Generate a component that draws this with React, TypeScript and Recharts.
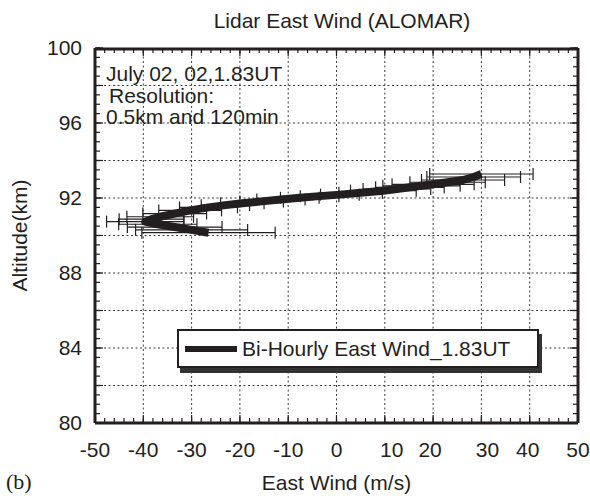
import React from 'react';
import { ComposedChart, Scatter, XAxis, YAxis, ErrorBar, Legend, ReferenceLine } from 'recharts';

const FONT = '"Liberation Sans", Arial, Helvetica, sans-serif';
const INK = '#231f20';

// Altitude (km) of each bi-hourly lidar sample, bottom to top
const altitudes = [
  90.15, 90.3, 90.45, 90.6, 90.74, 90.87, 91.0, 91.17, 91.34, 91.5, 91.62, 91.72, 91.82, 91.92,
  92.01, 92.1, 92.18, 92.28, 92.39, 92.48, 92.57, 92.65, 92.73, 92.84, 92.96, 93.12, 93.28,
];
// East wind (m/s)
const eastWind = [
  -26.5, -30.0, -33.5, -37.0, -39.6, -38.3, -36.5, -33.5, -30.3, -26.5, -23.0, -19.5, -15.5, -11.5,
  -7.6, -3.5, 0.7, 5.0, 9.7, 12.5, 15.2, 17.6, 20.0, 23.0, 26.2, 28.4, 30.0,
];
// Error (m/s)
const windError = [
  13.8, 11.6, 9.8, 8.1, 8.0, 6.7, 6.9, 6.6, 6.5, 6.0, 5.0, 4.5, 4.5, 5.0,
  4.0, 4.0, 4.0, 4.5, 6.8, 7.0, 7.1, 8.0, 8.5, 7.8, 8.6, 9.7, 10.7,
];

const xTicks = [-50, -40, -30, -20, -10, 0, 10, 20, 30, 40, 50];
const xGridLines = [-40, -30, -20, -10, 0, 10, 20, 30, 40];
const xMinorTicks = [
  -50, -48, -46, -44, -42, -40, -38, -36, -34, -32, -30, -28, -26, -24, -22, -20, -18, -16, -14, -12,
  -10, -8, -6, -4, -2, 0, 2, 4, 6, 8, 10, 12, 14, 16, 18, 20, 22, 24, 26, 28, 30, 32, 34, 36, 38, 40,
  42, 44, 46, 48, 50,
];
const yTicks = [80, 84, 88, 92, 96, 100];
const yGridLines = [82, 84, 86, 88, 90, 92, 94, 96, 98];
const yMajorTicks = [80, 82, 84, 86, 88, 90, 92, 94, 96, 98, 100];
const yMinorTicks = [
  80, 80.5, 81, 81.5, 82, 82.5, 83, 83.5, 84, 84.5, 85, 85.5, 86, 86.5, 87, 87.5, 88, 88.5, 89, 89.5,
  90, 90.5, 91, 91.5, 92, 92.5, 93, 93.5, 94, 94.5, 95, 95.5, 96, 96.5, 97, 97.5, 98, 98.5, 99, 99.5, 100,
];

const seriesName = 'Bi-Hourly East Wind_1.83UT';
const titleText = 'Lidar East Wind (ALOMAR)';
const noteLines = ['July 02, 02,1.83UT', 'Resolution:', '0.5km and 120min'];

// the original figure's x tick labels are slightly out of line with their ticks
const xLabelNudge: Record<string, number> = { '10': 7, '20': -3, '30': 6, '40': -2 };

const data = altitudes.map((alt, i) => ({ alt, wind: eastWind[i], err: windError[i] }));

const tickFont = { fontSize: 21, fill: INK, fontFamily: FONT };
const boxLine = { stroke: INK, strokeWidth: 3 };
const tickStroke = { stroke: INK, strokeWidth: 1.2 };
const gridStyle = { stroke: '#3a3a3a', strokeDasharray: '2 2.5', strokeWidth: 1 };

const XTick = (props: any) => {
  const { x, y, payload } = props;
  const label = String(payload.value);
  const dx = xLabelNudge[label] ?? 0;
  return (
    <text x={x + dx} y={y} dy={15} textAnchor="middle" fontSize={21} fill={INK} fontFamily={FONT}>
      {label}
    </text>
  );
};

const Nothing = () => <g />;

const renderLegend = () => (
  <div
    style={{
      width: 358,
      height: 35,
      border: `2px solid ${INK}`,
      background: '#fff',
      boxShadow: `3px 5px 0 #333`,
      display: 'flex',
      alignItems: 'center',
    }}
  >
    <div style={{ width: 52, height: 6, background: INK, marginLeft: 6, marginRight: 5 }} />
    <span style={{ fontSize: 21, fontFamily: FONT, color: INK, whiteSpace: 'nowrap' }}>{seriesName}</span>
  </div>
);

const frameX = (id: string, orientation: 'top' | 'bottom', ticks: number[], size: number, line: boolean) => (
  <XAxis
    key={id}
    xAxisId={id}
    dataKey="wind"
    orientation={orientation}
    mirror
    type="number"
    domain={[-50, 50]}
    allowDataOverflow
    ticks={ticks}
    interval={0}
    tick={<Nothing />}
    tickSize={size}
    tickLine={tickStroke}
    axisLine={line ? boxLine : false}
    height={1}
  />
);

const frameY = (id: string, orientation: 'left' | 'right', ticks: number[], size: number, line: boolean) => (
  <YAxis
    key={id}
    yAxisId={id}
    dataKey="alt"
    orientation={orientation}
    mirror
    type="number"
    domain={[80, 100]}
    allowDataOverflow
    ticks={ticks}
    interval={0}
    tick={<Nothing />}
    tickSize={size}
    tickLine={tickStroke}
    axisLine={line ? boxLine : false}
    width={1}
  />
);

export default function App() {
  return (
    <div style={{ position: 'absolute', left: 0, top: 0, width: 590, height: 498, background: '#fff' }}>
      <div
        style={{
          position: 'absolute',
          left: 212,
          top: 9,
          width: 260,
          textAlign: 'center',
          fontFamily: FONT,
          fontSize: 21,
          color: INK,
          whiteSpace: 'nowrap',
        }}
      >
        {titleText}
      </div>
      <ComposedChart
        width={590}
        height={498}
        data={data}
        margin={{ top: 48, right: 12, bottom: 0, left: 0 }}
      >
        {/* labelled bottom axis */}
        <XAxis
          xAxisId="xb"
          dataKey="wind"
          type="number"
          domain={[-50, 50]}
          allowDataOverflow
          ticks={xTicks}
          interval={0}
          tickLine={false}
          tickSize={0}
          tickMargin={19}
          axisLine={boxLine}
          tick={<XTick />}
          height={75}
          label={{
            value: 'East Wind (m/s)',
            position: 'insideBottom',
            offset: 8,
            style: { fontSize: 21, fill: INK, fontFamily: FONT },
          }}
        />
        {frameX('xbMinor', 'bottom', xMinorTicks, 4, false)}
        {frameX('xbMajor', 'bottom', xTicks, 8, false)}
        {frameX('xtMinor', 'top', xMinorTicks, 4, true)}
        {frameX('xtMajor', 'top', xTicks, 8, false)}
        {/* labelled left axis */}
        <YAxis
          yAxisId="yl"
          dataKey="alt"
          type="number"
          domain={[80, 100]}
          allowDataOverflow
          ticks={yTicks}
          interval={0}
          tickLine={false}
          tickSize={0}
          tickMargin={13}
          axisLine={boxLine}
          tick={tickFont}
          width={95}
          label={{
            value: 'Altitude(km)',
            angle: -90,
            position: 'insideLeft',
            offset: 20,
            style: { fontSize: 21, fill: INK, fontFamily: FONT, textAnchor: 'middle' },
          }}
        />
        {frameY('ylMinor', 'left', yMinorTicks, 4, false)}
        {frameY('ylMajor', 'left', yMajorTicks, 8, false)}
        {frameY('yrMajor', 'right', yMajorTicks, 8, true)}
        {frameY('yrMinor', 'right', yMinorTicks, 4, false)}

        {xGridLines.map((v) => (
          <ReferenceLine key={`gx${v}`} x={v} xAxisId="xb" yAxisId="yl" {...gridStyle} />
        ))}
        {yGridLines.map((v) => (
          <ReferenceLine key={`gy${v}`} y={v} xAxisId="xb" yAxisId="yl" {...gridStyle} />
        ))}

        {/* invisible carriers so the frame axes get scales */}
        <Scatter xAxisId="xbMinor" yAxisId="ylMinor" data={data} shape={Nothing} legendType="none" isAnimationActive={false} />
        <Scatter xAxisId="xbMajor" yAxisId="ylMajor" data={data} shape={Nothing} legendType="none" isAnimationActive={false} />
        <Scatter xAxisId="xtMinor" yAxisId="yrMinor" data={data} shape={Nothing} legendType="none" isAnimationActive={false} />
        <Scatter xAxisId="xtMajor" yAxisId="yrMajor" data={data} shape={Nothing} legendType="none" isAnimationActive={false} />

        <Scatter
          xAxisId="xb"
          yAxisId="yl"
          name={seriesName}
          data={data}
          isAnimationActive={false}
          line={{ stroke: INK, strokeWidth: 8, strokeLinejoin: 'round' }}
          lineJointType="linear"
          shape={Nothing}
          fill={INK}
        >
          <ErrorBar dataKey="err" direction="x" width={6} stroke={INK} strokeWidth={1.2} isAnimationActive={false} />
        </Scatter>
        <Legend
          layout="horizontal"
          verticalAlign="middle"
          align="center"
          content={renderLegend}
          wrapperStyle={{ position: 'absolute', left: 177, top: 329, width: 362, height: 39 }}
        />
      </ComposedChart>
      <div
        style={{
          position: 'absolute',
          left: 106,
          top: 63,
          fontFamily: FONT,
          fontSize: 21,
          lineHeight: '21.5px',
          color: INK,
          whiteSpace: 'nowrap',
        }}
      >
        <div>{noteLines[0]}</div>
        <div style={{ paddingLeft: 3 }}>{noteLines[1]}</div>
        <div>{noteLines[2]}</div>
      </div>
      <div
        style={{
          position: 'absolute',
          left: 6,
          top: 469,
          fontFamily: '"Liberation Serif", "Times New Roman", serif',
          fontSize: 22,
          color: INK,
        }}
      >
        (b)
      </div>
    </div>
  );
}
